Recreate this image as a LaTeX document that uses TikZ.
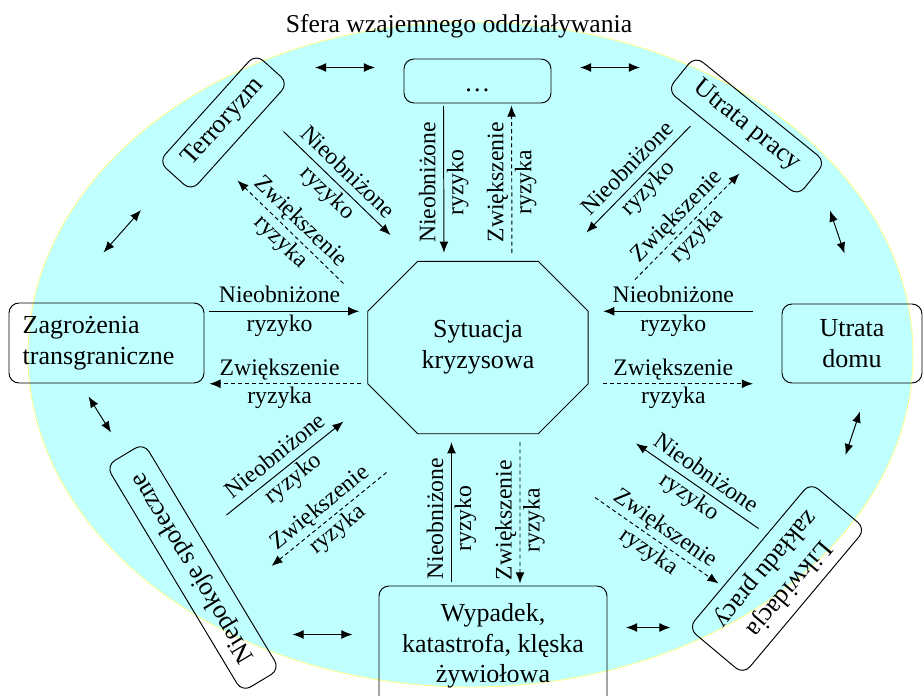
\documentclass[tikz,border=0pt]{standalone}
\usepackage{fontspec}
\setmainfont{Liberation Serif}
\usetikzlibrary{calc,arrows.meta}

\definecolor{sfera}{RGB}{192,255,255}
\definecolor{sferaedge}{RGB}{255,255,150}

\begin{document}
\begin{tikzpicture}[
   line width=0.55pt,
   >={Latex[length=6.3pt,width=5pt]},
   box/.style={rectangle,draw,rounded corners=0.2cm,align=center,
    inner sep=0pt,font=\fontsize{14.8}{17.5}\selectfont},
   octbox/.style={rectangle,minimum width=4.39cm,minimum height=3.43cm,
    inner sep=0pt,align=center,font=\fontsize{14.8}{17.5}\selectfont},
   lbl/.style={align=center,inner sep=0pt,font=\fontsize{13.5}{16}\selectfont},
   solidarr/.style={->},
   dasharr/.style={->,dash pattern=on 2.3pt off 1.7pt}
    ]

    % Sphere:
    \useasboundingbox (-9.41,-6.81) rectangle (9.05,7.09);
    \draw[fill=sfera,draw=sferaedge] (0,0) ellipse (8.85 and 6.65);
    \node[font=\fontsize{14.6}{17.5}\selectfont] at (-0.23,6.57) (title) {Sfera wzajemnego oddziaływania};

    % Crisis (octagon):
    \node[octbox] at (0.15,0.14) (crisis) {Sytuacja\\kryzysowa};
    \coordinate (c-nw) at ([xshift=1cm]crisis.north west);
    \coordinate (c-ne) at ([xshift=-1cm]crisis.north east);
    \coordinate (c-en) at ([yshift=-1cm]crisis.north east);
    \coordinate (c-es) at ([yshift=1cm]crisis.south east);
    \coordinate (c-se) at ([xshift=-1cm]crisis.south east);
    \coordinate (c-sw) at ([xshift=1cm]crisis.south west);
    \coordinate (c-ws) at ([yshift=1cm]crisis.south west);
    \coordinate (c-wn) at ([yshift=-1cm]crisis.north west);
    \draw (c-nw) -- (c-ne) -- (c-en) -- (c-es) -- (c-se) -- (c-sw) -- (c-ws) -- (c-wn) -- cycle;

    % Boxes:
    \node[box,minimum width=2.94cm,minimum height=0.88cm,text height=0.5cm,text depth=0.1cm] at (0.14,5.47) (dots) {…};
    \node[box,minimum width=3.9cm,minimum height=1.6cm,align=left,text width=3.35cm] at (-7.28,0.23) (zag) {Zagrożenia\\transgraniczne};
    \node[box,minimum width=2.8cm,minimum height=1.58cm] at (7.63,0.22) (dom) {Utrata\\domu};
    \node[box,minimum width=4.56cm,minimum height=2.4cm] at (0.45,-5.83) (acc) {Wypadek,\\katastrofa, klęska\\żywiołowa};
    \node[box,minimum width=2.9cm,minimum height=0.88cm,rotate=48] at (-4.94,4.64) (terror) {Terroryzm};
    \node[box,minimum width=3.36cm,minimum height=0.88cm,rotate=-39] at (5.52,4.57) (job) {Utrata pracy};
    \node[box,minimum width=5.28cm,minimum height=0.88cm,rotate=121] at (-5.55,-4.26) (unrest) {Niepokoje społeczne};
    \node[box,minimum width=3.8cm,minimum height=1.44cm,rotate=-130] at (6.13,-4.48) (closure) {Likwidacja\\zakładu pracy};

    % Straight arrows to and from the crisis:
    \draw[solidarr,shorten <=0.1cm,shorten >=0.17cm] (zag.east |- c-wn) -- node[lbl,pos=0.46] {Nieobniżone\\ryzyko} (c-wn);
    \draw[dasharr,shorten <=0.13cm,shorten >=0.1cm] (c-ws) -- node[lbl,pos=0.54] {Zwiększenie\\ryzyka} (zag.east |- c-ws);
    \draw[solidarr,shorten <=0.57cm,shorten >=0.3cm] (dom.west |- c-en) -- node[lbl,pos=0.56] {Nieobniżone\\ryzyko} (c-en);
    \draw[dasharr,shorten <=0.3cm,shorten >=0.57cm] (c-es) -- node[lbl,pos=0.44] {Zwiększenie\\ryzyka} (dom.west |- c-es);
    \draw[solidarr,shorten <=0.05cm,shorten >=0.17cm] ([xshift=-0.68cm]dots.south) -- node[lbl,rotate=90] {Nieobniżone\\ryzyko} ([xshift=-0.68cm]crisis.north);
    \draw[dasharr,shorten <=0.17cm,shorten >=0.04cm] ([xshift=0.68cm]crisis.north) -- node[lbl,rotate=90] {Zwiększenie\\ryzyka} ([xshift=0.68cm]dots.south);
    \draw[solidarr,shorten <=0.08cm,shorten >=0.17cm] ([xshift=-0.83cm]acc.north) -- node[lbl,rotate=90,pos=0.44] {Nieobniżone\\ryzyko} ([xshift=-0.53cm]crisis.south);
    \draw[dasharr,shorten <=0.17cm,shorten >=0.04cm] ([xshift=0.84cm]crisis.south) -- node[lbl,rotate=90,pos=0.57] {Zwiększenie\\ryzyka} ([xshift=0.54cm]acc.north);

    % Slanted arrows (free ends):
    \coordinate (s1) at (-3.74,4.46);  \coordinate (t1) at (-1.60,2.39);
    \coordinate (s2) at (-2.54,1.42);  \coordinate (t2) at (-4.66,3.48);
    \coordinate (s3) at (4.40,4.57);   \coordinate (t3) at (2.32,2.44);
    \coordinate (s4) at (3.29,1.50);   \coordinate (t4) at (5.38,3.62);
    \coordinate (s5) at (-4.88,-3.21); \coordinate (t5) at (-2.54,-1.34);
    \coordinate (s6) at (-1.68,-2.36); \coordinate (t6) at (-3.98,-4.23);
    \coordinate (s7) at (5.76,-3.48);  \coordinate (t7) at (3.31,-1.78);
    \coordinate (s8) at (2.49,-2.86);  \coordinate (t8) at (4.96,-4.58);

    \draw[solidarr] (s1) -- node[lbl,sloped] {Nieobniżone\\ryzyko} (t1); % terroryzm -> crisis
    \draw[dasharr] (s2) -- node[lbl,sloped] {Zwiększenie\\ryzyka} (t2);
    \draw[solidarr] (s3) -- node[lbl,sloped] {Nieobniżone\\ryzyko} (t3); % utrata pracy -> crisis
    \draw[dasharr] (s4) -- node[lbl,sloped] {Zwiększenie\\ryzyka} (t4);
    \draw[solidarr] (s5) -- node[lbl,sloped] {Nieobniżone\\ryzyko} (t5); % niepokoje -> crisis
    \draw[dasharr] (s6) -- node[lbl,sloped] {Zwiększenie\\ryzyka} (t6);
    \draw[solidarr] (s7) -- node[lbl,sloped] {Nieobniżone\\ryzyko} (t7); % likwidacja -> crisis
    \draw[dasharr] (s8) -- node[lbl,sloped] {Zwiększenie\\ryzyka} (t8);

    % Double arrows round the sphere:
    \coordinate (d1) at (-3.11,5.74);  \coordinate (e1) at (-1.91,5.74);
    \coordinate (d2) at (2.19,5.74);   \coordinate (e2) at (3.39,5.74);
    \coordinate (d3) at (7.19,2.88);   \coordinate (e3) at (7.48,2.02);
    \coordinate (d4) at (7.79,-1.14);  \coordinate (e4) at (7.50,-2.01);
    \coordinate (d5) at (3.11,-5.46);  \coordinate (e5) at (4.00,-5.46);
    \coordinate (d6) at (-3.56,-5.60); \coordinate (e6) at (-2.36,-5.60);
    \coordinate (d7) at (-7.64,-0.84); \coordinate (e7) at (-7.19,-1.56);
    \coordinate (d8) at (-7.34,2.04);  \coordinate (e8) at (-6.59,2.89);

    \draw[<->] (d1) -- (e1);
    \draw[<->] (d2) -- (e2);
    \draw[<->] (d3) -- (e3);
    \draw[<->] (d4) -- (e4);
    \draw[<->] (d5) -- (e5);
    \draw[<->] (d6) -- (e6);
    \draw[<->] (d7) -- (e7);
    \draw[<->] (d8) -- (e8);

\end{tikzpicture}
\end{document}
